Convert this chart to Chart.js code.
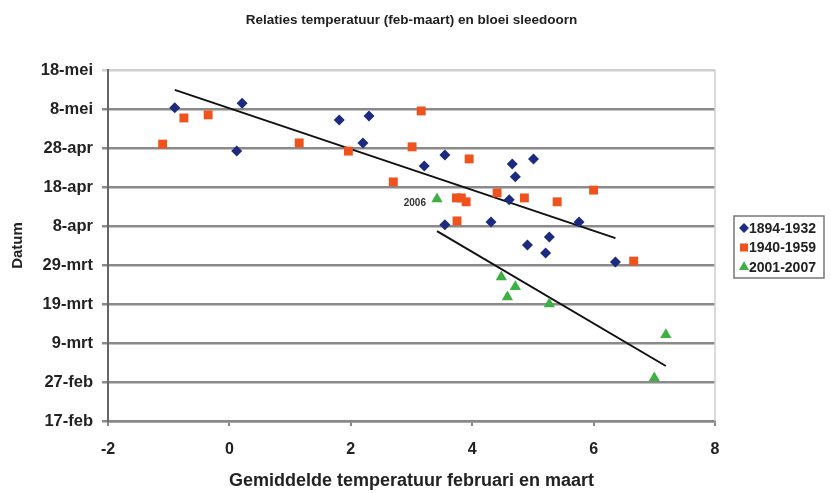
<!DOCTYPE html>
<html>
<head>
<meta charset="utf-8">
<script src="https://cdn.jsdelivr.net/npm/chart.js@4"></script>
<style>
  html, body { margin: 0; padding: 0; background: #fff; }
  #wrap { width: 831px; height: 493px; }
</style>
</head>
<body>
<div id="wrap"><canvas id="c" width="831" height="493"></canvas></div>
<script>
// y values are days after 17 february
const dateTicks = ['17-feb','27-feb','9-mrt','19-mrt','29-mrt','8-apr','18-apr','28-apr','8-mei','18-mei'];

const oldX = [-0.90, 0.21, 0.12, 1.81, 2.30, 2.20, 3.21, 3.55, 4.66, 4.71, 5.01, 4.61, 3.55, 4.31, 5.76, 4.91, 5.27, 5.21, 6.36];
const oldY = [80.3, 81.5, 69.2, 77.2, 78.2, 71.3, 65.4, 68.2, 65.9, 62.6, 67.2, 56.7, 50.3, 51.0, 51.0, 45.1, 47.2, 43.1, 40.8];

const midX = [-1.10, -0.75, -0.35, 1.15, 1.96, 2.70, 3.01, 3.16, 3.75, 3.74, 3.82, 3.90, 3.95, 4.41, 4.86, 5.40, 6.00, 6.66];
const midY = [71.0, 77.7, 78.5, 71.3, 69.2, 61.3, 70.3, 79.5, 51.3, 57.2, 57.2, 56.2, 67.2, 58.5, 57.2, 56.2, 59.2, 41.0];

const newX = [3.42, 4.48, 4.71, 4.58, 5.27, 7.19, 7.00];
const newY = [56.9, 36.9, 34.4, 31.8, 30.0, 22.1, 11.0];

// trend line end points
const trendOldX = [-0.90, 6.36], trendOldY = [84.9, 46.9];
const trendNewX = [3.42, 7.19],  trendNewY = [48.7, 14.1];

const chartTitle = 'Relaties temperatuur (feb-maart) en bloei sleedoorn';

const pts = (xs, ys) => xs.map((x, i) => ({ x, y: ys[i] }));

const FONT = 'Liberation Sans, Arial, sans-serif';

// title, legend box, plot border and the "2006" note
const extras = {
  id: 'extras',
  afterDraw(c) {
    const { ctx, chartArea: a, scales } = c;
    ctx.save();
    // title, centred over the plot
    ctx.fillStyle = '#222';
    ctx.font = 'bold 13.5px ' + FONT;
    ctx.textAlign = 'center'; ctx.textBaseline = 'middle';
    ctx.fillText(chartTitle, (a.left + a.right) / 2, 20);

    // right border of plot
    ctx.strokeStyle = '#cfcfcf';
    ctx.lineWidth = 1.5;
    ctx.beginPath(); ctx.moveTo(a.right, a.top); ctx.lineTo(a.right, a.bottom); ctx.stroke();

    // label next to the 2006 point
    const p = c.data.datasets[2].data[0];
    ctx.fillStyle = '#333';
    ctx.font = 'bold 10px ' + FONT;
    ctx.textAlign = 'right';
    ctx.fillText('2006', scales.x.getPixelForValue(p.x) - 11, scales.y.getPixelForValue(p.y) + 4);

    // legend
    const bx = a.right + 19, by = 216, bw = 90, bh = 62;
    ctx.strokeStyle = '#777'; ctx.lineWidth = 1.5;
    ctx.strokeRect(bx, by, bw, bh);
    ctx.font = 'bold 14px ' + FONT;
    ctx.textAlign = 'left';
    [0, 1, 2].forEach(i => {
      const ds = c.data.datasets[i];
      const y = by + 12 + i * 19.5;
      ctx.fillStyle = ds.backgroundColor;
      Chart.helpers.drawPoint(ctx, { pointStyle: ds.pointStyle, radius: ds.pointRadius * 0.9, borderWidth: 0 }, bx + 10, y);
      ctx.fillStyle = '#222';
      ctx.fillText(ds.label, bx + 15, y + 1);
    });
    ctx.restore();
  }
};

new Chart(document.getElementById('c'), {
  data: {
    datasets: [
      { type: 'scatter', label: '1894-1932', data: pts(oldX, oldY), pointStyle: 'rectRot',
        backgroundColor: '#1c2a80', borderColor: '#1c2a80', pointRadius: 5.5, borderWidth: 0 },
      { type: 'scatter', label: '1940-1959', data: pts(midX, midY), pointStyle: 'rect',
        backgroundColor: '#f0521e', borderColor: '#f0521e', pointRadius: 6.3, borderWidth: 0 },
      { type: 'scatter', label: '2001-2007', data: pts(newX, newY), pointStyle: 'triangle',
        backgroundColor: '#3cb043', borderColor: '#3cb043', pointRadius: 6.5, borderWidth: 0 },
      { type: 'line', label: 'trend 1', data: pts(trendOldX, trendOldY), borderColor: '#111',
        borderWidth: 2, pointRadius: 0, fill: false },
      { type: 'line', label: 'trend 2', data: pts(trendNewX, trendNewY), borderColor: '#111',
        borderWidth: 2, pointRadius: 0, fill: false }
    ]
  },
  options: {
    responsive: false,
    animation: false,
    layout: { padding: { left: 0, right: 116, top: 70, bottom: 0 } },
    scales: {
      x: {
        type: 'linear', min: -2, max: 8,
        ticks: { stepSize: 2, color: '#222', font: { family: FONT, size: 16, weight: 'bold' }, padding: 14 },
        grid: { drawOnChartArea: false, drawTicks: true, tickLength: 5, color: '#888', lineWidth: 2 },
        border: { color: '#888', width: 2.5 },
        title: { display: true, text: 'Gemiddelde temperatuur februari en maart', color: '#222',
                 font: { family: FONT, size: 18, weight: 'bold' }, padding: { bottom: 1 } },
        afterFit: s => { s.height = 72; }
      },
      y: {
        type: 'linear', min: 0, max: 90,
        ticks: { stepSize: 10, color: '#222', font: { family: FONT, size: 16.5, weight: 'bold' }, padding: 9,
                 callback: v => dateTicks[v / 10] },
        grid: { tickLength: 6, lineWidth: 2.5,
                color: g => g.tick && g.tick.value === 90 ? '#cfcfcf' : '#8a8a8a' },
        border: { color: '#666', width: 2 },
        title: { display: true, text: 'Datum', color: '#222',
                 font: { family: FONT, size: 15, weight: 'bold' }, padding: { top: 9 } },
        afterFit: s => { s.width = 108; }
      }
    },
    plugins: {
      legend: { display: false },
      tooltip: { enabled: false },
      title: { display: false }
    }
  },
  plugins: [extras]
});
</script>
</body>
</html>
